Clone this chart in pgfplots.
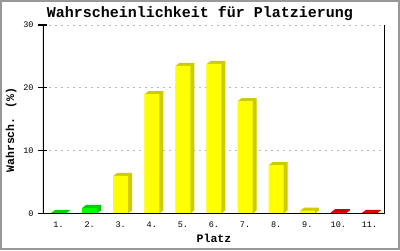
\documentclass[border=0pt]{standalone}
\usepackage{fontspec}
\setmainfont{Liberation Mono}
\usepackage{pgfplots}
\usepackage{pgfplotstable}
\pgfplotsset{compat=1.18}
\definecolor{ygl}{HTML}{FFFF00}
\definecolor{ydk}{HTML}{CCCC00}
\definecolor{ggl}{HTML}{00FF00}
\definecolor{gdk}{HTML}{00CC00}
\definecolor{rgl}{HTML}{FF0000}
\definecolor{rdk}{HTML}{CC0000}
\definecolor{framec}{HTML}{999999}
\definecolor{gridc}{HTML}{BBBBBB}
\pgfplotstableread{
x y
1 0.1
2 0.9
}\greendata
\pgfplotstableread{
x y
3 6.0
4 19.0
5 23.5
6 23.8
7 17.9
8 7.7
9 0.45
}\yellowdata
\pgfplotstableread{
x y
10 0.2
11 0.1
}\reddata
\begin{document}
\begin{tikzpicture}[x=1pt,y=1pt]
\useasboundingbox (0,0) rectangle (400,250);
\draw[framec, line width=2pt] (1,1) rectangle (399,249);
\begin{axis}[
  at={(43pt,36.5pt)}, anchor=south west,
  scale only axis, width=342pt, height=188.5pt,
  xmin=0.5, xmax=11.5, ymin=0, ymax=30,
  axis line style={draw=none},
  xtick={1,2,3,4,5,6,7,8,9,10,11},
  xticklabels={1.,2.,3.,4.,5.,6.,7.,8.,9.,10.,11.},
  xtick style={draw=none},
  ytick={0,10,20,30},
  ytick pos=left,
  xtick pos=bottom,
  tick align=center,
  major tick length=9pt,
  ytick style={black, line width=1.2pt},
  ymajorgrids,
  grid style={gridc, line width=1pt, dash pattern=on 2pt off 4pt},
  tick label style={font=\fontsize{8.5}{9}\selectfont},
  yticklabel style={xshift=-1.5pt},
  /pgf/number format/assume math mode=true,
  title={Wahrscheinlichkeit für Platzierung},
  title style={at={(axis description cs:0.459,1.006)}, anchor=base, font=\bfseries\fontsize{15}{18}\selectfont},
  xlabel={Platz},
  xlabel style={at={(axis description cs:0.5,-0.152)}, anchor=base, font=\bfseries\fontsize{11.5}{13}\selectfont},
  ylabel={Wahrsch. (\%)},
  every axis y label/.style={at={(axis description cs:-0.0848,0.443)}, rotate=90, anchor=base, font=\bfseries\fontsize{11.5}{13}\selectfont},
]
% depth (side/top) faces, drawn as stacked offset copies
\pgfplotsinvokeforeach{8,7,6,5,4,3,2,1}{
  \addplot[ybar, bar width=15pt, bar shift={#1*0.5pt}, yshift={#1*0.375pt}, fill=gdk, draw=none] table[x=x,y=y] {\greendata};
  \addplot[ybar, bar width=15pt, bar shift={#1*0.5pt}, yshift={#1*0.375pt}, fill=ydk, draw=none] table[x=x,y=y] {\yellowdata};
  \addplot[ybar, bar width=15pt, bar shift={#1*0.5pt}, yshift={#1*0.375pt}, fill=rdk, draw=none] table[x=x,y=y] {\reddata};
}
% front faces
\addplot[ybar, bar width=15pt, bar shift=0pt, fill=ggl, draw=none] table[x=x,y=y] {\greendata};
\addplot[ybar, bar width=15pt, bar shift=0pt, fill=ygl, draw=none] table[x=x,y=y] {\yellowdata};
\addplot[ybar, bar width=15pt, bar shift=0pt, fill=rgl, draw=none] table[x=x,y=y] {\reddata};
\draw[black, line width=1.5pt] (rel axis cs:0,1) -- (rel axis cs:0,0) -- (rel axis cs:1,0) -- (rel axis cs:1,1);
\end{axis}
\end{tikzpicture}
\end{document}
